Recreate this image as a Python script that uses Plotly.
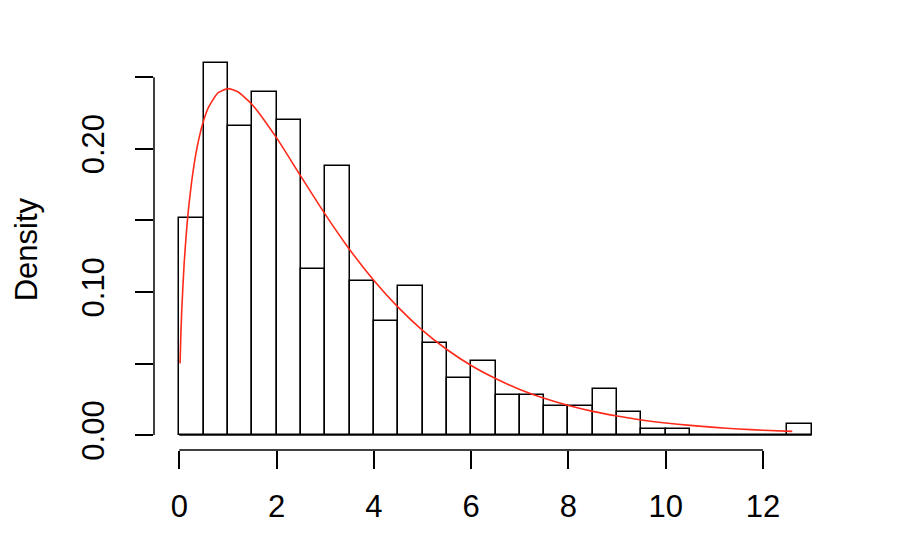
import plotly.graph_objects as go

# Histogram bins (width 0.5) and density heights
BIN_EDGES = [i * 0.5 for i in range(27)]  # 0 .. 13
DENSITY = [0.152, 0.260, 0.216, 0.240, 0.220, 0.116, 0.188, 0.108, 0.080, 0.104,
           0.064, 0.040, 0.052, 0.028, 0.028, 0.020, 0.020, 0.032, 0.016, 0.004,
           0.004, 0.000, 0.000, 0.000, 0.000, 0.008]

# Red density curve points
CURVE_X = [0.016, 0.03, 0.05, 0.1, 0.15, 0.2, 0.3, 0.4, 0.5, 0.6, 0.8, 1.0, 1.2, 1.5,
           2.0, 2.5, 3.0, 3.5, 4.0, 4.5, 5.0, 5.5, 6.0, 6.5, 7.0, 7.5, 8.0, 8.5,
           9.0, 9.5, 10.0, 10.5, 11.0, 11.5, 12.0, 12.6]
CURVE_Y = [0.0501, 0.0681, 0.0870, 0.1200, 0.1433, 0.1614, 0.1881, 0.2066, 0.2197,
           0.2289, 0.2392, 0.2420, 0.2398, 0.2308, 0.2076, 0.1807, 0.1542, 0.1297,
           0.1080, 0.0892, 0.0732, 0.0598, 0.0486, 0.0395, 0.0319, 0.0257, 0.0207,
           0.0166, 0.0133, 0.0106, 0.0085, 0.0068, 0.0054, 0.0043, 0.0034, 0.0026]

X_TICKS = [0, 2, 4, 6, 8, 10, 12]
Y_TICKS = [0.00, 0.05, 0.10, 0.15, 0.20, 0.25]
Y_TICK_TEXT = ["0.00", "", "0.10", "", "0.20", ""]
Y_LABEL = "Density"

FONT = "Liberation Sans, Arial, Helvetica, sans-serif"
FS = 31

centers = [(a + b) / 2 for a, b in zip(BIN_EDGES[:-1], BIN_EDGES[1:])]
widths = [b - a for a, b in zip(BIN_EDGES[:-1], BIN_EDGES[1:])]

fig = go.Figure()
fig.add_trace(go.Bar(
    x=centers, y=DENSITY, width=widths,
    marker=dict(color="white", line=dict(color="black", width=1.5)),
    showlegend=False, hoverinfo="skip",
))
fig.add_trace(go.Scatter(
    x=CURVE_X, y=CURVE_Y, mode="lines",
    line=dict(color="#ff2a1a", width=1.6, shape="spline", smoothing=0.6),
    showlegend=False, hoverinfo="skip",
))

xmin, xmax = BIN_EDGES[0], BIN_EDGES[-1]
xpad = 0.04 * (xmax - xmin)
ymax = max(DENSITY)
ypad = 0.04 * ymax

# baseline of histogram (covers zero-height bins)
fig.add_shape(type="line", xref="x", yref="y", x0=xmin, x1=xmax, y0=0, y1=0,
              line=dict(color="black", width=1.5), layer="below")
# R-style axis lines spanning first to last tick
fig.add_shape(type="line", xref="x", yref="paper", x0=X_TICKS[0], x1=X_TICKS[-1],
              y0=0, y1=0, line=dict(color="black", width=1.5))
fig.add_shape(type="line", xref="paper", yref="y", x0=0, x1=0,
              y0=Y_TICKS[0], y1=Y_TICKS[-1], line=dict(color="black", width=1.5))

fig.add_annotation(text=Y_LABEL, xref="paper", yref="paper", x=-0.187, y=0.5,
                   xanchor="center", yanchor="middle", textangle=-90, showarrow=False,
                   borderpad=0,
                   font=dict(family=FONT, size=FS, color="black"))

# page body has an 8px default margin; margins compensate so the plot area
# lands where it is in the reference
fig.update_layout(
    width=912, height=560,
    margin=dict(l=146, r=83, t=40, b=118, autoexpand=False),
    paper_bgcolor="white", plot_bgcolor="white",
    font=dict(family=FONT, size=FS, color="black"),
    bargap=0,
    xaxis=dict(range=[xmin - xpad, xmax + xpad], tickvals=X_TICKS,
               ticktext=[str(t) for t in X_TICKS], ticks="outside", ticklen=18,
               tickwidth=1.5, tickcolor="black", showgrid=False, zeroline=False,
               showline=False, ticklabelstandoff=11, automargin=False),
    yaxis=dict(range=[-ypad, ymax + ypad], tickvals=Y_TICKS, ticktext=Y_TICK_TEXT,
               tickangle=-90, ticks="outside", ticklen=18, tickwidth=1.5,
               tickcolor="black", showgrid=False, zeroline=False, showline=False,
               ticklabelstandoff=19, automargin=False),
)

fig.write_html("out.html")
